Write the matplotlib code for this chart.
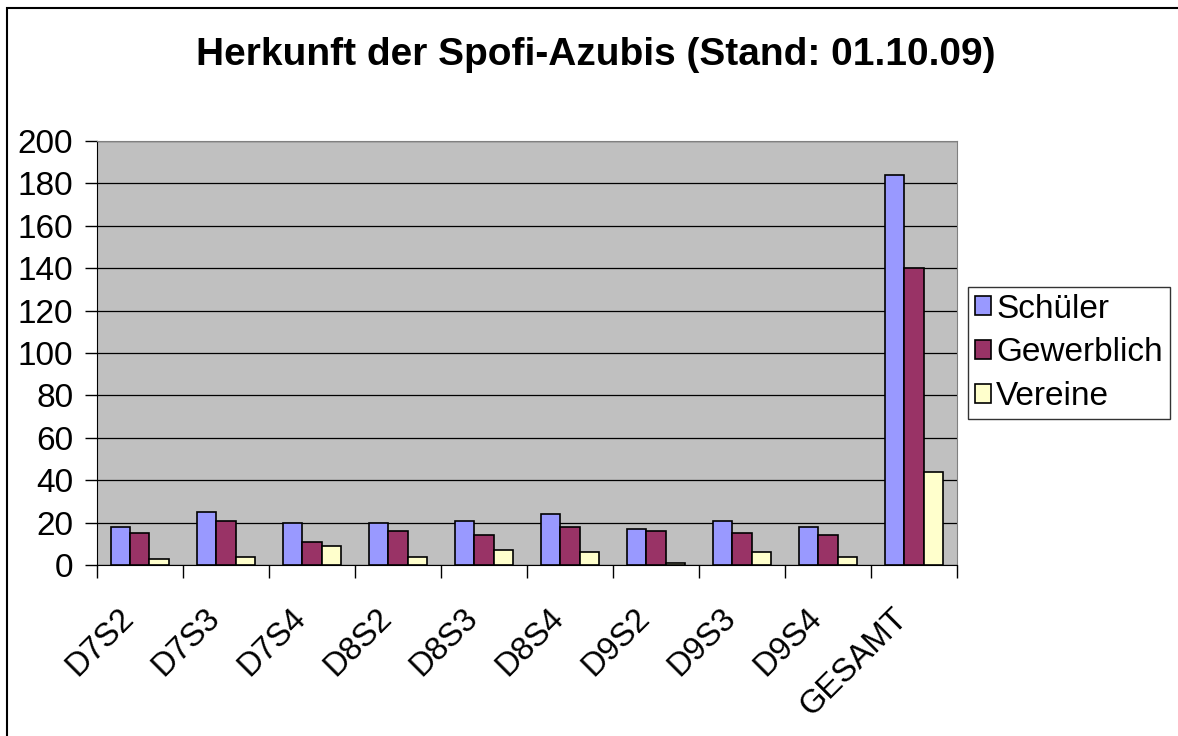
import numpy as np
import matplotlib.pyplot as plt
import matplotlib.transforms as mtransforms
from matplotlib.patches import Rectangle

plt.rcParams['font.family'] = ['Liberation Sans', 'DejaVu Sans']

categories = ['D7S2', 'D7S3', 'D7S4', 'D8S2', 'D8S3', 'D8S4', 'D9S2', 'D9S3', 'D9S4', 'GESAMT']
schueler = [18, 25, 20, 20, 21, 24, 17, 21, 18, 184]
gewerblich = [15, 21, 11, 16, 14, 18, 16, 15, 14, 140]
vereine = [3, 4, 9, 4, 7, 6, 1, 6, 4, 44]

series = [('Schüler', schueler, '#9999FF'),
          ('Gewerblich', gewerblich, '#993366'),
          ('Vereine', vereine, '#FFFFCC')]

fig = plt.figure(figsize=(11.78, 7.36), dpi=100)
ax = fig.add_axes([0.0823, 0.2323, 0.7301, 0.5761])
ax.set_facecolor('#C0C0C0')

x = np.arange(len(categories))
w = 0.222
for i, (name, vals, col) in enumerate(series):
    ax.bar(x + (i - 1) * w, vals, w, color=col, edgecolor='black', linewidth=1.2,
           label=name, zorder=3)

ax.set_xlim(-0.5, len(categories) - 0.5)
ax.set_ylim(0, 200)
ax.set_yticks(range(0, 201, 20))
ax.yaxis.grid(True, color='black', linewidth=0.9, zorder=1)
ax.set_axisbelow(True)

# ticks at category boundaries, labels centred under groups
ax.set_xticks(np.arange(-0.5, len(categories), 1.0))
ax.set_xticklabels([])
ax.set_xticks(x, minor=True)
ax.set_xticklabels(categories, minor=True, rotation=45, ha='right',
                   rotation_mode='anchor', fontsize=23.5)
ax.tick_params(axis='x', which='minor', length=0, pad=16)
ax.tick_params(axis='x', which='major', length=9, width=1)
ax.tick_params(axis='y', length=9, width=1, labelsize=24, pad=8)

# nudge rotated labels down-left like the original
offset = mtransforms.ScaledTranslation(-0.22, -0.15, fig.dpi_scale_trans)
for lbl in ax.get_xticklabels(minor=True):
    lbl.set_transform(lbl.get_transform() + offset)

for side in ['top', 'right']:
    ax.spines[side].set_color('#808080')
for side in ['left', 'bottom']:
    ax.spines[side].set_color('black')

fig.text(0.506, 0.925, 'Herkunft der Spofi-Azubis (Stand: 01.10.09)',
         ha='center', va='center', fontsize=28, fontweight='bold')

leg = fig.legend(loc='upper left', bbox_to_anchor=(0.8217, 0.610), fontsize=24,
                 frameon=True, fancybox=False, edgecolor='black',
                 handlelength=0.5, handleheight=0.5, handletextpad=0.15,
                 borderpad=0.2, labelspacing=0.38, borderaxespad=0)
leg.get_frame().set_linewidth(1)

fig.patches.append(Rectangle((0.006, -0.05), 1.1, 1.039, transform=fig.transFigure,
                             fill=False, edgecolor='black', linewidth=1.5))

fig.savefig('out.png', dpi=100)
